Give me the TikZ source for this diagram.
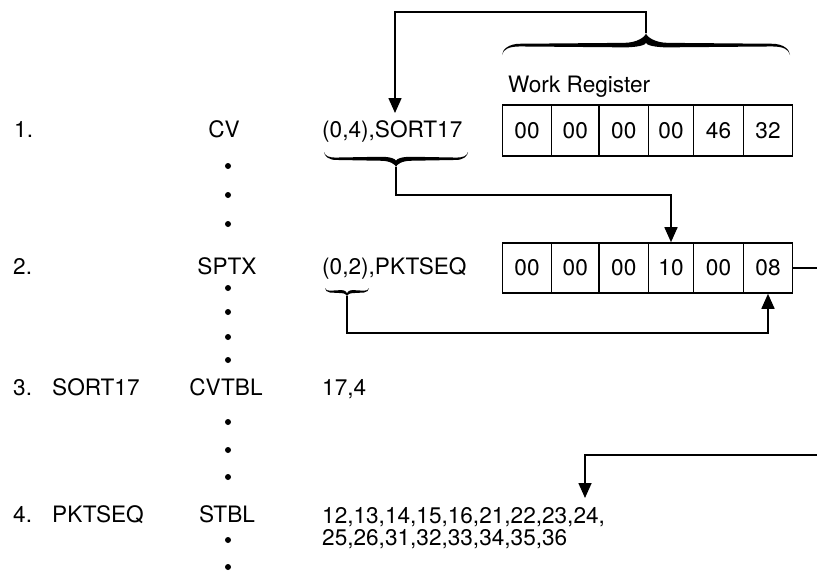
\documentclass[tikz,border=0pt]{standalone}
\usepackage{fontspec}
\setmainfont{TeX Gyre Heros}
\usetikzlibrary{arrows.meta,calc}
% calligraphic brace: #1,#2 centre of base line, #3 rotation, #4 half width,
% #5 height of tip, #6 end curl width, #7 cusp half width, #8 thickness
\newcommand\calbrace[8]{%
  \begin{scope}[shift={(#1,#2)}, rotate=#3]
    \pgfmathsetmacro\cbW{#4}\pgfmathsetmacro\cbH{#5}%
    \pgfmathsetmacro\cbR{#6}\pgfmathsetmacro\cbS{#7}%
    \pgfmathsetmacro\cbT{#8}\pgfmathsetmacro\cbF{0.45*#5}%
    \fill (-\cbW,0)
      .. controls ({-\cbW+0.3},{0.6*\cbF}) and ({-\cbW+0.4*\cbR},{\cbF+0.3*\cbT}) .. ({-\cbW+\cbR},{\cbF+0.3*\cbT})
      -- ({-\cbS},{\cbF+0.5*\cbT})
      .. controls ({-0.4*\cbS},{\cbF+0.5*\cbT}) and (-0.3,{\cbH-0.3*(\cbH-\cbF)}) .. (0,\cbH)
      .. controls (0.3,{\cbH-0.3*(\cbH-\cbF)}) and ({0.4*\cbS},{\cbF+0.5*\cbT}) .. ({\cbS},{\cbF+0.5*\cbT})
      -- ({\cbW-\cbR},{\cbF+0.3*\cbT})
      .. controls ({\cbW-0.4*\cbR},{\cbF+0.3*\cbT}) and ({\cbW-0.3},{0.6*\cbF}) .. (\cbW,0)
      .. controls ({\cbW-1.2},{0.6*\cbF}) and ({\cbW-0.4*\cbR},{\cbF-0.3*\cbT}) .. ({\cbW-\cbR},{\cbF-0.3*\cbT})
      -- ({\cbS},{\cbF-0.5*\cbT})
      .. controls ({0.4*\cbS},{\cbF-0.5*\cbT}) and (0.3,\cbF) .. (0,{\cbF+0.5*\cbT})
      .. controls (-0.3,\cbF) and ({-0.4*\cbS},{\cbF-0.5*\cbT}) .. ({-\cbS},{\cbF-0.5*\cbT})
      -- ({-\cbW+\cbR},{\cbF-0.3*\cbT})
      .. controls ({-\cbW+0.4*\cbR},{\cbF-0.3*\cbT}) and ({-\cbW+1.2},{0.6*\cbF}) .. (-\cbW,0)
      -- cycle;
  \end{scope}}
\begin{document}
\begin{tikzpicture}[x=1pt,y=1pt,
  txt/.style={inner sep=0pt, font=\fontsize{22.6}{26}\selectfont},
  lab/.style={txt, anchor=base west},
  labc/.style={txt, anchor=base},
  cell/.style={draw, line width=1.6pt, minimum height=51pt, inner sep=0pt, font=\fontsize{22.6}{26}\selectfont},
  conn/.style={line width=1.6pt},
  arr/.style={conn, -{Triangle[length=15pt,width=13pt]}},
  dot/.style={circle, fill, inner sep=0pt, minimum size=6pt}
]
\useasboundingbox (0,0) rectangle (817,-571);

% row labels
\node[lab] (n1) at (14,-137) {1.};
\node[lab] (n2) at (13,-274) {2.};
\node[lab] (n3) at (13,-395) {3.};
\node[lab] (n4) at (13,-522) {4.};
\node[lab] (l3) at (52,-395) {SORT17};
\node[lab] (l4) at (52,-522) {PKTSEQ};
\node[labc] (o1) at (224,-137) {CV};
\node[labc] (o2) at (227,-274) {SPTX};
\node[labc] (o3) at (226,-395) {CVTBL};
\node[labc] (o4) at (227,-522) {STBL};
\node[lab] (r1c) at (322,-137) {(0,4),SORT17};
\node[lab] (r2c) at (322,-274) {(0,2),PKTSEQ};
\node[lab] (r3c) at (322,-395) {17,4};
\node[lab] (r4c) at (322,-523) {12,13,14,15,16,21,22,23,24,};
\node[lab] (r4d) at (322,-545) {25,26,31,32,33,34,35,36};

% dots
\foreach \y [count=\i] in {166,195,224,288,312,337,360,422,450,477,540,567}
  \node[dot] (d\i) at (228,-\y) {};

% work register label
\node[lab] (wr) at (508,-92) {Work Register};

% register row 1
\node[cell, minimum width=49pt]   (c1a) at (527,-130.5)    {00};
\node[cell, minimum width=47.5pt] (c1b) at (575.25,-130.5) {00};
\node[cell, minimum width=49.5pt] (c1c) at (623.75,-130.5) {00};
\node[cell, minimum width=45pt]   (c1d) at (671,-130.5)    {00};
\node[cell, minimum width=50pt]   (c1e) at (718.5,-130.5)  {46};
\node[cell, minimum width=49pt]   (c1f) at (768,-130.5)    {32};

% register row 2
\node[cell, minimum width=49pt, minimum height=50pt]   (c2a) at (527,-268)    {00};
\node[cell, minimum width=47.5pt, minimum height=50pt] (c2b) at (575.25,-268) {00};
\node[cell, minimum width=49.5pt, minimum height=50pt] (c2c) at (623.75,-268) {00};
\node[cell, minimum width=45pt, minimum height=50pt]   (c2d) at (671,-268)    {10};
\node[cell, minimum width=50pt, minimum height=50pt]   (c2e) at (718.5,-268)  {00};
\node[cell, minimum width=49pt, minimum height=50pt]   (c2f) at (768,-268)    {08};

% braces
\calbrace{646}{-55}{0}{144}{22}{18}{22}{4.5}
\coordinate (b1tip) at (646,-33);
\calbrace{396}{-152}{180}{72}{15}{12}{15}{4}
\coordinate (b2tip) at (396,-167);
\calbrace{347}{-288}{180}{22}{8}{5}{6}{3}
\coordinate (b3tip) at (347,-296);

% connectors
\coordinate (topL) at (395,-12);
\coordinate (a1end) at (395,-113);
\draw[arr] (b1tip) |- (topL) -- (a1end);

\coordinate (mid2) at (396,-195);
\draw[arr] (b2tip) -- (mid2) -| (c2d.north);

\coordinate (mid3) at (347,-333);
\draw[arr] (b3tip) -- (mid3) -| (c2f.south);

\coordinate (rexit) at (817,-268);
\draw[conn] (c2f.east) -- (rexit);

\coordinate (rin) at (817,-455);
\coordinate (a24) at (585,-498);
\draw[arr] (rin) -| (a24);
\end{tikzpicture}
\end{document}
